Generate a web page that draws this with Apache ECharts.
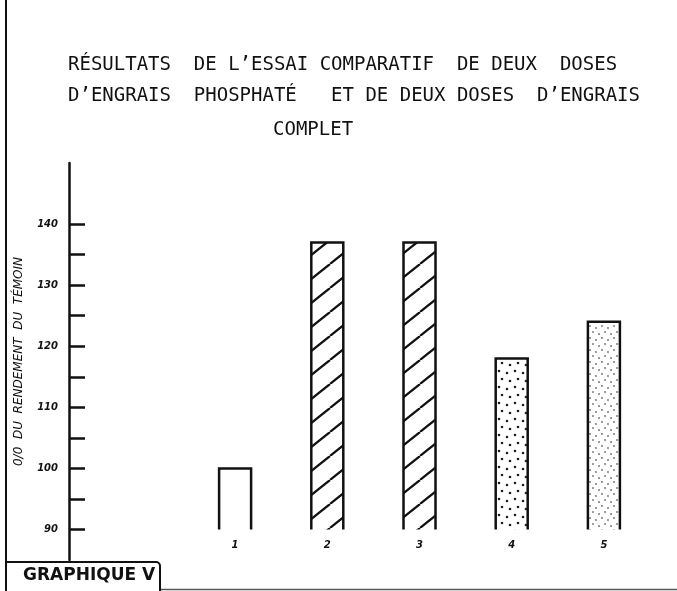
<!DOCTYPE html>
<html>
<head>
<meta charset="utf-8">
<script src="https://cdn.jsdelivr.net/npm/echarts@6/dist/echarts.min.js"></script>
<style>
  html, body { margin: 0; padding: 0; background: #fff; }
  #chart-container { width: 677px; height: 591px; }
</style>
</head>
<body>
<div id="chart-container"></div>
<script>
// data
var categories = ["1", "2", "3", "4", "5"];
var rendement = [100, 137, 137, 118, 124];
var baseValue = 90;
var tickValues = [90, 95, 100, 105, 110, 115, 120, 125, 130, 135, 140];
var labelValues = [90, 100, 110, 120, 130, 140];
var titleLines = [
  "RÉSULTATS  DE L’ESSAI COMPARATIF  DE DEUX  DOSES",
  "D’ENGRAIS  PHOSPHATÉ   ET DE DEUX DOSES  D’ENGRAIS",
  "COMPLET"
];
var ink = "#111";

function hatch() {
  var c = document.createElement("canvas");
  c.width = 30; c.height = 24;
  var ctx = c.getContext("2d");
  ctx.fillStyle = "#fff";
  ctx.fillRect(0, 0, 30, 24);
  ctx.strokeStyle = ink;
  ctx.lineWidth = 2.2;
  [-30, 0, 30].forEach(function (dx) {
    ctx.beginPath();
    ctx.moveTo(dx, 24);
    ctx.lineTo(dx + 30, 0);
    ctx.stroke();
  });
  return c;
}

function dots(size, pts, r, col) {
  var c = document.createElement("canvas");
  c.width = size; c.height = size;
  var ctx = c.getContext("2d");
  ctx.fillStyle = "#fff";
  ctx.fillRect(0, 0, size, size);
  ctx.fillStyle = col;
  pts.forEach(function (p) {
    ctx.beginPath();
    ctx.arc(p[0], p[1], r, 0, Math.PI * 2);
    ctx.fill();
  });
  return c;
}

var hatchImg = hatch();
var fills = [
  "#fff",
  { image: hatchImg, repeat: "repeat" },
  { image: hatchImg, repeat: "repeat" },
  { image: dots(16, [[3, 3], [11, 5], [6, 11], [14, 13]], 1.3, "#222"), repeat: "repeat" },
  { image: dots(12, [[2, 2], [8, 4], [5, 8], [11, 10]], 1.1, "#888"), repeat: "repeat" }
];

var titleFont = "'DejaVu Sans Mono', monospace";

var dom = document.getElementById("chart-container");
var myChart = echarts.init(dom, null, { renderer: "canvas" });

var option = {
  backgroundColor: "#fff",
  animation: false,
  title: [
    { text: titleLines[0], left: 63, top: 51 },
    { text: titleLines[1], left: 63, top: 82 },
    { text: titleLines[2], left: 268, top: 116 }
  ].map(function (t) {
    t.textStyle = { fontFamily: titleFont, fontSize: 19, fontWeight: "normal", color: ink };
    return t;
  }),
  grid: { left: 189, right: 27, top: 163, bottom: 31 },
  xAxis: {
    type: "category",
    data: categories,
    axisLine: { show: false },
    axisTick: { show: false },
    axisLabel: { margin: -20, fontSize: 10, fontStyle: "italic", fontWeight: "bold", color: ink, fontFamily: "DejaVu Sans" }
  },
  yAxis: {
    type: "value",
    min: 85,
    max: 150,
    interval: 5,
    offset: 120,
    name: "0/0  DU  RENDEMENT  DU  TÉMOIN",
    nameLocation: "middle",
    nameRotate: 90,
    nameGap: 44,
    nameTextStyle: { fontSize: 12, fontStyle: "italic", color: ink, fontFamily: "DejaVu Sans" },
    axisLine: { show: true, lineStyle: { color: ink, width: 2.5 } },
    axisTick: { show: true, inside: true, length: 16, customValues: tickValues, lineStyle: { color: ink, width: 2.5 } },
    axisLabel: { customValues: labelValues, margin: 11, fontSize: 10, fontStyle: "italic", fontWeight: "bold", color: ink, fontFamily: "DejaVu Sans" },
    splitLine: { show: false }
  },
  series: [{
    type: "custom",
    data: rendement.map(function (v, i) { return [i, v]; }),
    renderItem: function (params, api) {
      var i = api.value(0);
      var top = api.coord([i, api.value(1)]);
      var base = api.coord([i, baseValue]);
      var w = 32;
      var x0 = top[0] - w / 2, x1 = top[0] + w / 2;
      return {
        type: "group",
        children: [
          { type: "rect", shape: { x: x0, y: top[1], width: w, height: base[1] - top[1] }, style: { fill: fills[i] } },
          { type: "polyline", shape: { points: [[x0, base[1]], [x0, top[1]], [x1, top[1]], [x1, base[1]]] },
            style: { stroke: ink, lineWidth: 2.5, fill: null } }
        ]
      };
    }
  }],
  graphic: [
    { type: "line", shape: { x1: 6, y1: 0, x2: 6, y2: 591 }, style: { stroke: ink, lineWidth: 2 } },
    { type: "line", shape: { x1: 6, y1: 589.5, x2: 677, y2: 589.5 }, style: { stroke: "#555", lineWidth: 1.5 } },
    { type: "rect", shape: { x: 6, y: 562, width: 154, height: 40, r: [0, 4, 0, 0] }, style: { stroke: ink, lineWidth: 2, fill: "#fff" } },
    { type: "text", left: 23, top: 567, style: { text: "GRAPHIQUE V", font: "bold 17px 'DejaVu Sans'", fill: ink } }
  ]
};

myChart.setOption(option);
window.addEventListener("resize", myChart.resize);
</script>
</body>
</html>
